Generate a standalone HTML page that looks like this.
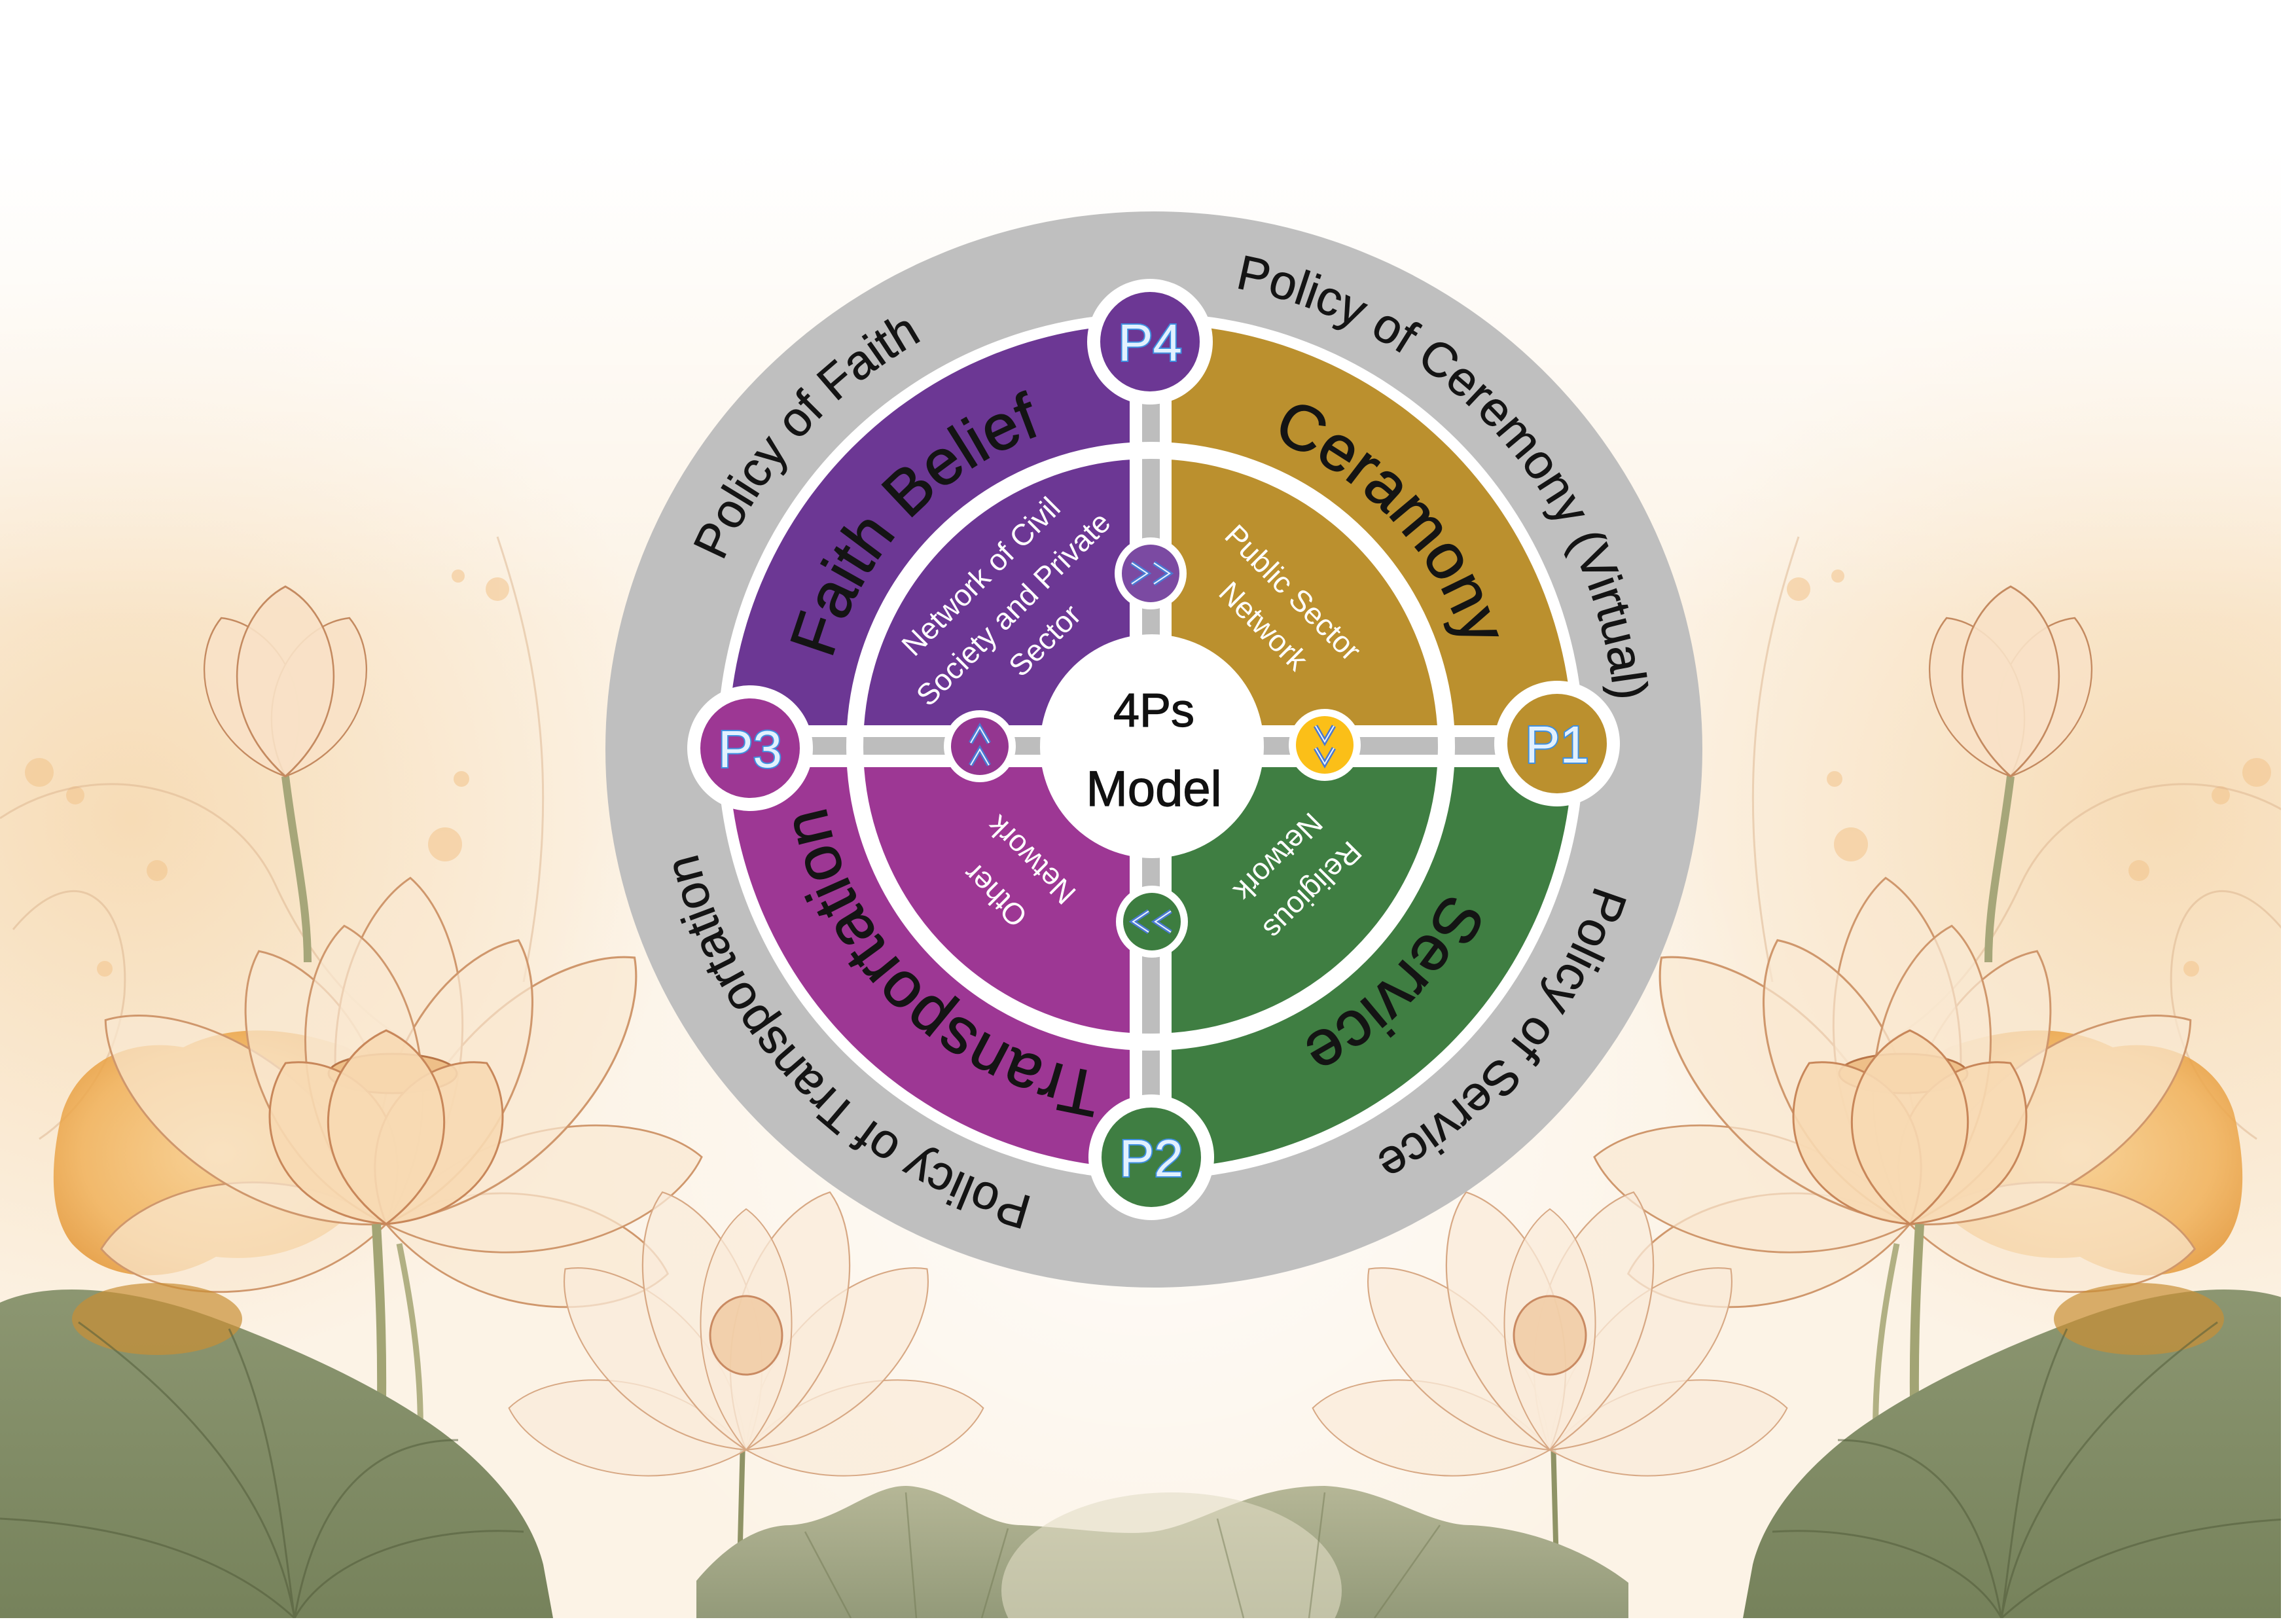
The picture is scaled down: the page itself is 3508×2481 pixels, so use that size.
<!DOCTYPE html>
<html>
<head>
<meta charset="utf-8">
<style>
html,body{margin:0;padding:0;background:#ffffff;}
svg{display:block;}
</style>
</head>
<body>
<svg xmlns="http://www.w3.org/2000/svg" width="3508" height="2481" viewBox="0 0 3508 2481" font-family="'Liberation Sans', sans-serif">
<defs>
  <linearGradient id="topW" x1="0" y1="225" x2="0" y2="950" gradientUnits="userSpaceOnUse">
    <stop offset="0" stop-color="#ffffff" stop-opacity="1"/>
    <stop offset="1" stop-color="#ffffff" stop-opacity="0"/>
  </linearGradient>
  <radialGradient id="peachL" cx="200" cy="1250" r="850" gradientUnits="userSpaceOnUse">
    <stop offset="0" stop-color="#f5d4a6" stop-opacity="0.75"/>
    <stop offset="1" stop-color="#f5d4a6" stop-opacity="0"/>
  </radialGradient>
  <radialGradient id="peachR" cx="3300" cy="1250" r="850" gradientUnits="userSpaceOnUse">
    <stop offset="0" stop-color="#f5d4a6" stop-opacity="0.75"/>
    <stop offset="1" stop-color="#f5d4a6" stop-opacity="0"/>
  </radialGradient>
  <radialGradient id="whiteC" cx="1754" cy="1650" r="950" gradientUnits="userSpaceOnUse">
    <stop offset="0" stop-color="#ffffff" stop-opacity="0.85"/>
    <stop offset="1" stop-color="#ffffff" stop-opacity="0"/>
  </radialGradient>
  <radialGradient id="orangeG" cx="0.5" cy="0.5" r="0.6">
    <stop offset="0" stop-color="#f7cd8c"/>
    <stop offset="0.7" stop-color="#f0b058"/>
    <stop offset="1" stop-color="#e39636"/>
  </radialGradient>
  <linearGradient id="leafG" x1="0" y1="1950" x2="0" y2="2472" gradientUnits="userSpaceOnUse">
    <stop offset="0" stop-color="#8d9772"/>
    <stop offset="1" stop-color="#76825b"/>
  </linearGradient>
  <linearGradient id="leafC" x1="0" y1="2260" x2="0" y2="2472" gradientUnits="userSpaceOnUse">
    <stop offset="0" stop-color="#b7b898"/>
    <stop offset="1" stop-color="#939a79"/>
  </linearGradient>
  <path id="pL" d="M0,0 C-150,-185 -105,-450 0,-530 C105,-450 150,-185 0,0Z"/>
  <path id="pM" d="M0,0 C-135,-161 -95,-391 0,-460 C95,-391 135,-161 0,0Z"/>
  <path id="pS" d="M0,0 C-135,-102 -95,-247 0,-290 C95,-247 135,-102 0,0Z"/>
  <path id="tp505" d="M1758,635 A505,505 0 1,1 1758,1645 A505,505 0 1,1 1758,635"/>
  <path id="tp712" d="M1758,428 A712,712 0 1,1 1758,1852 A712,712 0 1,1 1758,428"/>

  <g id="deco">
    <g fill="#f2c38a" opacity="0.55">
      <circle cx="60" cy="1180" r="22"/><circle cx="115" cy="1215" r="14"/>
      <circle cx="680" cy="1290" r="26"/><circle cx="705" cy="1190" r="12"/>
      <circle cx="760" cy="900" r="18"/><circle cx="700" cy="880" r="10"/>
      <circle cx="240" cy="1330" r="16"/><circle cx="160" cy="1480" r="12"/>
    </g>
    <g fill="none" stroke="#dcb48e" stroke-width="3" opacity="0.5">
      <path d="M0,1250 C150,1150 350,1200 420,1350 C480,1480 560,1560 640,1600"/>
      <path d="M20,1420 C120,1300 200,1380 190,1520 C180,1620 120,1700 60,1740"/>
      <path d="M760,820 C820,1000 860,1200 800,1500"/>
    </g>
    <path d="M95,1700 C120,1620 200,1585 280,1600 C360,1560 450,1572 530,1600 C600,1640 610,1760 560,1830 C500,1900 420,1930 330,1920 C250,1965 160,1955 110,1900 C70,1850 80,1760 95,1700Z" fill="url(#orangeG)" opacity="0.85"/>
    <g fill="#fae8d2" fill-opacity="0.7" stroke="#cf976c" stroke-width="3">
      <use href="#pM" transform="translate(590,1870) rotate(-95) scale(0.95)"/>
      <use href="#pM" transform="translate(590,1870) rotate(100) scale(0.95)"/>
      <use href="#pL" transform="translate(590,1870) rotate(-54)"/>
      <use href="#pL" transform="translate(590,1870) rotate(78) scale(0.93)"/>
      <use href="#pL" transform="translate(590,1870) rotate(43) scale(1.05)"/>
      <use href="#pM" transform="translate(590,1870) rotate(-25)"/>
      <use href="#pL" transform="translate(590,1870) rotate(4)"/>
      <use href="#pM" transform="translate(590,1870) rotate(25) scale(1.04)"/>
      <use href="#pM" transform="translate(590,1870) rotate(-8)"/>
    </g>
    <ellipse cx="600" cy="1640" rx="98" ry="30" fill="#eebf88" stroke="#b87548" stroke-width="3"/>
    <g fill="#f7d9b3" fill-opacity="0.9" stroke="#c8875a" stroke-width="3">
      <use href="#pS" transform="translate(590,1870) rotate(-32)"/>
      <use href="#pS" transform="translate(590,1870) rotate(32)"/>
      <use href="#pS" transform="translate(590,1870) rotate(0) scale(1.02)"/>
    </g>
    <path d="M436,1186 C450,1300 470,1380 470,1470" fill="none" stroke="#a6a679" stroke-width="12"/>
    <g fill="#f8e1c6" fill-opacity="0.9" stroke="#c48a60" stroke-width="3">
      <use href="#pS" transform="translate(436,1186) rotate(-22) scale(0.75,0.9)"/>
      <use href="#pS" transform="translate(436,1186) rotate(22) scale(0.75,0.9)"/>
      <use href="#pS" transform="translate(436,1186) scale(0.85,1.0)"/>
    </g>
    <path d="M575,1870 C582,2000 592,2150 568,2472" fill="none" stroke="#a2a474" stroke-width="14"/>
    <path d="M610,1900 C640,2050 660,2200 620,2400" fill="none" stroke="#b1b083" stroke-width="9"/>
    <path d="M1135,2200 L1128,2472" fill="none" stroke="#8f9366" stroke-width="8"/>
    <g fill="#f9ebda" fill-opacity="0.75" stroke="#d7a884" stroke-width="2.5">
      <use href="#pM" transform="translate(1140,2215) rotate(-80) scale(0.8)"/>
      <use href="#pM" transform="translate(1140,2215) rotate(80) scale(0.8)"/>
      <use href="#pM" transform="translate(1140,2215) rotate(-45) scale(0.85)"/>
      <use href="#pM" transform="translate(1140,2215) rotate(45) scale(0.85)"/>
      <use href="#pM" transform="translate(1140,2215) rotate(-18) scale(0.9)"/>
      <use href="#pM" transform="translate(1140,2215) rotate(18) scale(0.9)"/>
      <use href="#pM" transform="translate(1140,2215) scale(0.8)"/>
    </g>
    <ellipse cx="1140" cy="2040" rx="55" ry="60" fill="#f0c9a0" fill-opacity="0.8" stroke="#c98a62" stroke-width="3"/>
    <path d="M0,1990 C90,1950 230,1975 344,2020 C450,2060 560,2110 650,2170 C740,2230 810,2310 830,2390 L845,2472 L0,2472Z" fill="url(#leafG)"/>
    <ellipse cx="240" cy="2015" rx="130" ry="55" fill="#c98e35" opacity="0.7"/>
    <g fill="none" stroke="#525c3a" stroke-width="3" opacity="0.55">
      <path d="M450,2472 C420,2300 300,2150 120,2020"/>
      <path d="M450,2472 C480,2300 560,2200 700,2200"/>
      <path d="M450,2472 C350,2380 200,2330 0,2320"/>
      <path d="M450,2472 C500,2380 650,2330 800,2340"/>
      <path d="M450,2472 C430,2330 420,2180 350,2030"/>
    </g>
  </g>
</defs>

<rect x="0" y="0" width="3508" height="2481" fill="#ffffff"/>
<rect x="0" y="225" width="3485" height="2247" fill="#fcf3e6"/>
<rect x="0" y="225" width="3485" height="2247" fill="url(#peachL)"/>
<rect x="0" y="225" width="3485" height="2247" fill="url(#peachR)"/>
<rect x="0" y="225" width="3485" height="2247" fill="url(#whiteC)"/>
<rect x="0" y="225" width="3485" height="800" fill="url(#topW)"/>

<use href="#deco"/>
<use href="#deco" transform="matrix(-1,0,0,1,3508,0)"/>

<path d="M1064,2472 L1064,2415 C1110,2360 1160,2330 1208,2330 C1280,2325 1330,2270 1384,2270 C1450,2272 1500,2330 1560,2330 C1650,2335 1700,2345 1752,2341 C1830,2335 1900,2270 2024,2270 C2120,2275 2180,2330 2248,2330 C2350,2335 2440,2380 2488,2418 L2488,2472Z" fill="url(#leafC)"/>
<ellipse cx="1790" cy="2430" rx="260" ry="150" fill="#e3ddc7" opacity="0.6"/>
<g fill="none" stroke="#6e7650" stroke-width="2.5" opacity="0.45">
  <path d="M1400,2472 L1384,2280"/><path d="M1300,2472 L1230,2340"/><path d="M1500,2472 L1540,2335"/>
  <path d="M2000,2472 L2024,2280"/><path d="M2100,2472 L2200,2330"/><path d="M1900,2472 L1860,2320"/>
</g>

<rect x="3485" y="0" width="23" height="2481" fill="#ffffff"/>
<rect x="0" y="2472" width="3508" height="9" fill="#ffffff"/>

<!-- DIAGRAM -->
<ellipse cx="1763" cy="1145" rx="838" ry="822" fill="#bfbfbf"/>
<circle cx="1758" cy="1140" r="662" fill="#ffffff"/>
<path d="M1758,1140 L1113,1140 A645,645 0 0,1 1758,495 Z" fill="#6c3794"/>
<path d="M1758,1140 L1758,495 A645,645 0 0,1 2403,1140 Z" fill="#bb902e"/>
<path d="M1758,1140 L2403,1140 A645,645 0 0,1 1758,1785 Z" fill="#3f7e42"/>
<path d="M1758,1140 L1758,1785 A645,645 0 0,1 1113,1140 Z" fill="#9d3794"/>

<rect x="1726" y="480" width="64" height="1320" fill="#ffffff"/>
<rect x="1098" y="1108" width="1320" height="64" fill="#ffffff"/>
<rect x="1745" y="500" width="27" height="1280" fill="#bdbdbd"/>
<rect x="1118" y="1126" width="1280" height="27" fill="#bdbdbd"/>

<circle cx="1758" cy="1140" r="452" fill="none" stroke="#ffffff" stroke-width="26"/>
<circle cx="1760" cy="1140" r="171" fill="#ffffff"/>
<text x="1763" y="1110" font-size="72" text-anchor="middle" fill="#111111" stroke="#111111" stroke-width="1.2">4Ps</text>
<text x="1763" y="1231" font-size="76" text-anchor="middle" fill="#111111" stroke="#111111" stroke-width="1.2">Model</text>

<g font-size="98" fill="#141414" stroke="#141414" stroke-width="1.5">
  <text><textPath href="#tp505" startOffset="86.94%" text-anchor="middle">Faith Belief</textPath></text>
  <text><textPath href="#tp505" startOffset="13.06%" text-anchor="middle">Ceramony</textPath></text>
  <text><textPath href="#tp505" startOffset="37.36%" text-anchor="middle">Service</textPath></text>
  <text><textPath href="#tp505" startOffset="62.22%" text-anchor="middle">Transportation</textPath></text>
</g>
<g font-size="74" fill="#141414" stroke="#141414" stroke-width="0.8">
  <text><textPath href="#tp712" startOffset="86.67%" text-anchor="middle">Policy of Faith</textPath></text>
  <text><textPath href="#tp712" startOffset="13.17%" text-anchor="middle">Policy of Ceremony (Virtual)</textPath></text>
  <text><textPath href="#tp712" startOffset="35.92%" text-anchor="middle">Policy of Service</textPath></text>
  <text><textPath href="#tp712" startOffset="62.69%" text-anchor="middle">Policy of Transportation</textPath></text>
</g>

<g font-size="46" fill="#ffffff" text-anchor="middle">
  <g transform="translate(1758,1140) rotate(-45)">
    <text x="0" y="-351">Network of Civil</text>
    <text x="0" y="-281">Society and Private</text>
    <text x="0" y="-213">Sector</text>
  </g>
  <g transform="translate(1758,1140) rotate(45)">
    <text x="-12" y="-304">Public Sector</text>
    <text x="-8" y="-236">Network</text>
  </g>
  <g transform="translate(1758,1140) rotate(135)">
    <text x="-19" y="-315">Religious</text>
    <text x="-18" y="-242">Network</text>
  </g>
  <g transform="translate(1758,1140) rotate(225)">
    <text x="7" y="-313">Other</text>
    <text x="6" y="-236">Network</text>
  </g>
</g>

<circle cx="1758" cy="876" r="55" fill="#ffffff"/><circle cx="1758" cy="876" r="44" fill="#7b4aa2"/>
<circle cx="1760" cy="1408" r="55" fill="#ffffff"/><circle cx="1760" cy="1408" r="44" fill="#3d7d40"/>
<circle cx="1497" cy="1140" r="55" fill="#ffffff"/><circle cx="1497" cy="1140" r="44" fill="#943690"/>
<circle cx="2024" cy="1138" r="55" fill="#ffffff"/><circle cx="2024" cy="1138" r="44" fill="#fbbf18"/>
<g fill="none" stroke-linejoin="miter" stroke-linecap="butt">
  <g stroke="#4a79d2" stroke-width="7">
    <polyline points="1729,860 1753,876 1729,892"/><polyline points="1763,860 1787,876 1763,892"/>
    <polyline points="1789,1392 1765,1408 1789,1424"/><polyline points="1755,1392 1731,1408 1755,1424"/>
    <polyline points="1483,1135 1497,1111 1511,1135"/><polyline points="1483,1169 1497,1145 1511,1169"/>
    <polyline points="2010,1109 2024,1133 2038,1109"/><polyline points="2010,1143 2024,1167 2038,1143"/>
  </g>
  <g stroke="#e8f2ff" stroke-width="2">
    <polyline points="1729,860 1753,876 1729,892"/><polyline points="1763,860 1787,876 1763,892"/>
    <polyline points="1789,1392 1765,1408 1789,1424"/><polyline points="1755,1392 1731,1408 1755,1424"/>
    <polyline points="1483,1135 1497,1111 1511,1135"/><polyline points="1483,1169 1497,1145 1511,1169"/>
    <polyline points="2010,1109 2024,1133 2038,1109"/><polyline points="2010,1143 2024,1167 2038,1143"/>
  </g>
</g>

<circle cx="1757" cy="522" r="96" fill="#ffffff"/><circle cx="1757" cy="522" r="76" fill="#6c3794"/>
<circle cx="2379" cy="1136" r="96" fill="#ffffff"/><circle cx="2379" cy="1136" r="76" fill="#bb902e"/>
<circle cx="1759" cy="1768" r="96" fill="#ffffff"/><circle cx="1759" cy="1768" r="76" fill="#3f7e42"/>
<circle cx="1146" cy="1143" r="96" fill="#ffffff"/><circle cx="1146" cy="1143" r="76" fill="#9d3794"/>
<g font-size="80" text-anchor="middle" fill="#e2f1ff" stroke="#3f8fe0" stroke-width="4" paint-order="stroke">
  <text x="1757" y="551">P4</text>
  <text x="2379" y="1165">P1</text>
  <text x="1759" y="1797">P2</text>
  <text x="1146" y="1172">P3</text>
</g>
</svg>
</body>
</html>
